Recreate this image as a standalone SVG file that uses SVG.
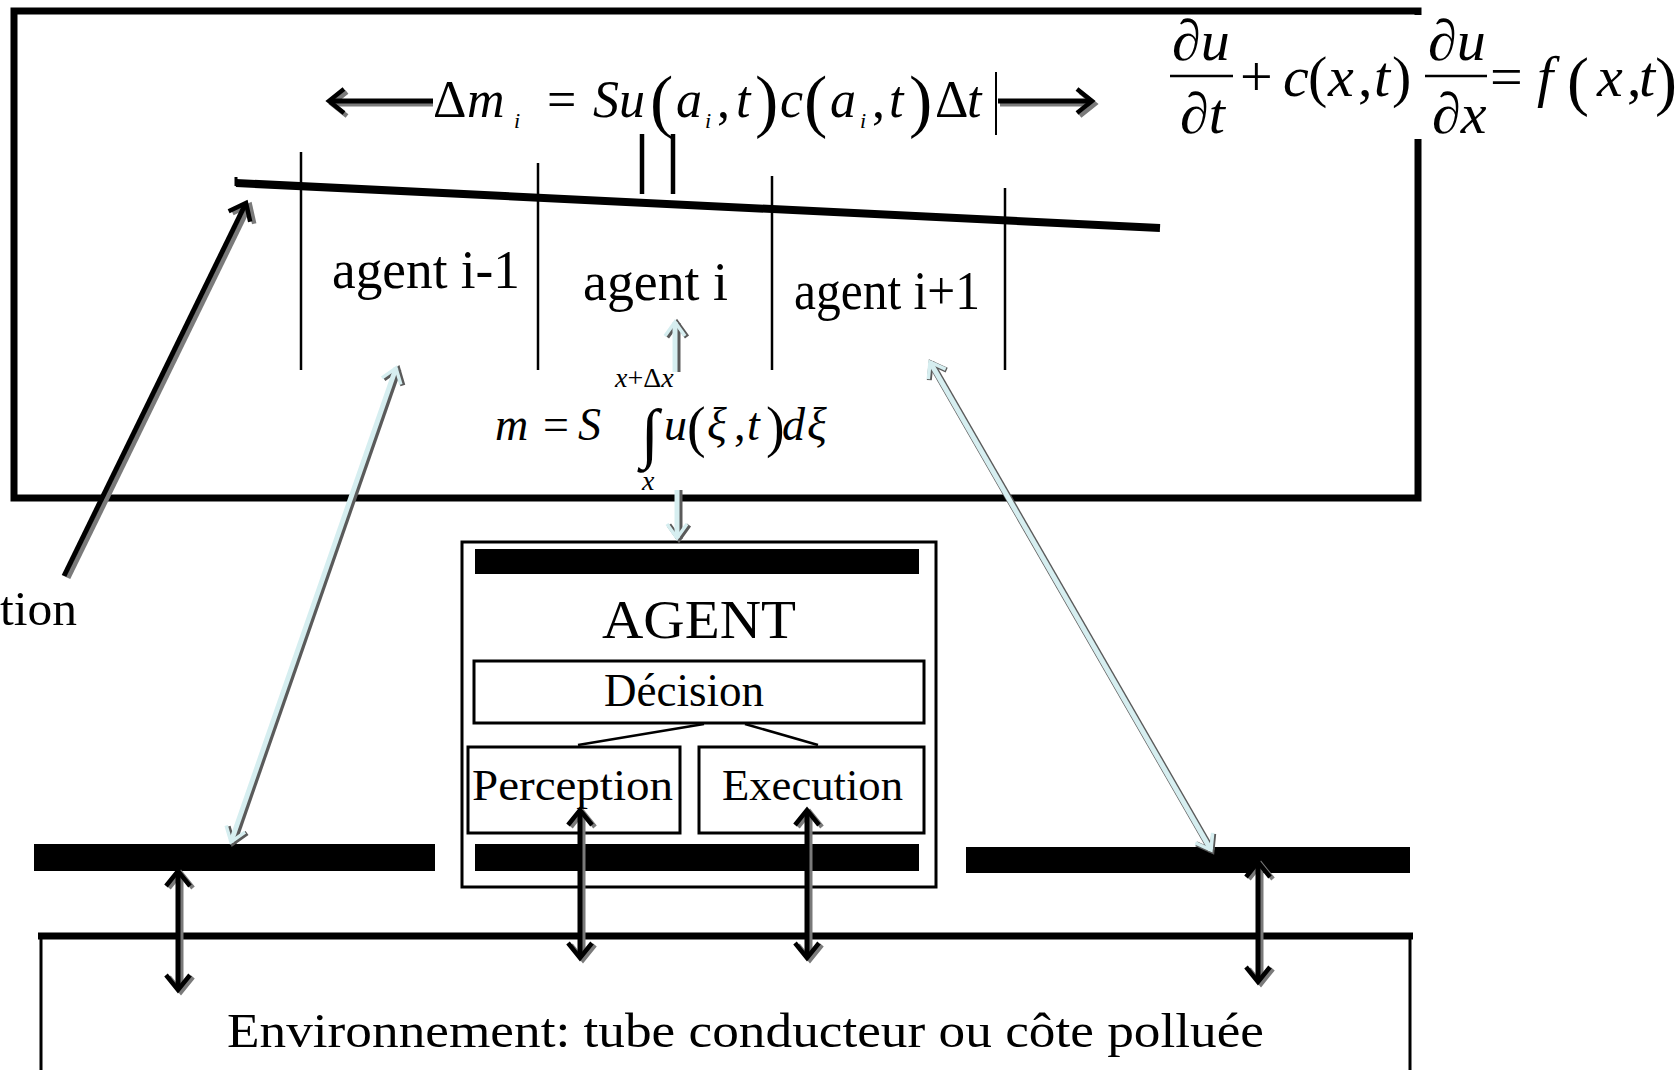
<svg xmlns="http://www.w3.org/2000/svg" width="1677" height="1070" viewBox="0 0 1677 1070">
<style>
.t{font-family:"Liberation Serif","Times New Roman",serif;fill:#000}
.i{font-style:italic}
.box{fill:none;stroke:#000;stroke-width:3}
.bar{fill:#000}
.div{stroke:#000;stroke-width:2.5}
.blk{stroke:#000;stroke-width:5;fill:none}
.shd{stroke:#7a7a7a;stroke-width:5;fill:none}
.cy{stroke:#d6eef0;stroke-width:5;fill:none}
.cysh{stroke:#5a5a5a;stroke-width:7;fill:none}
</style>
<defs>
<marker id="mk" viewBox="-16 -13 19 26" refX="0" refY="0" markerWidth="19" markerHeight="26" markerUnits="userSpaceOnUse" orient="auto-start-reverse" overflow="visible"><path d="M-15,-12 L0,0 L-15,12" fill="none" stroke="#000" stroke-width="4.5"/></marker>
<marker id="mg" viewBox="-16 -13 19 26" refX="0" refY="0" markerWidth="19" markerHeight="26" markerUnits="userSpaceOnUse" orient="auto-start-reverse" overflow="visible"><path d="M-15,-12 L0,0 L-15,12" fill="none" stroke="#7a7a7a" stroke-width="4.5"/></marker>
<marker id="mc" viewBox="-16 -13 19 26" refX="0" refY="0" markerWidth="19" markerHeight="26" markerUnits="userSpaceOnUse" orient="auto-start-reverse" overflow="visible"><path d="M-14,-10 L0,0 L-14,10" fill="none" stroke="#d6eef0" stroke-width="3.5"/></marker>
<marker id="mcs" viewBox="-16 -13 19 26" refX="0" refY="0" markerWidth="19" markerHeight="26" markerUnits="userSpaceOnUse" orient="auto-start-reverse" overflow="visible"><path d="M-14,-10 L0,0 L-14,10" fill="none" stroke="#5a5a5a" stroke-width="5"/></marker>
</defs>
<rect width="1677" height="1070" fill="#fff"/>

<g id="top-panel">
<rect x="14" y="11" width="1404" height="487" fill="none" stroke="#000" stroke-width="7"/>
</g>

<g id="pde-equation">
<rect x="1163" y="15" width="514" height="124" fill="#fff"/>
<g class="t" font-size="58">
<text class="i" x="1172" y="60">∂u</text>
<text class="i" x="1180" y="133">∂t</text>
<text x="1240" y="96">+</text>
<text x="1283" y="96"><tspan class="i">c</tspan><tspan x="1308">(</tspan><tspan class="i" x="1328">x</tspan><tspan x="1358">,</tspan><tspan class="i" x="1374">t</tspan><tspan x="1392">)</tspan></text>
<text class="i" x="1428" y="60">∂u</text>
<text class="i" x="1432" y="133">∂x</text>
<text x="1490" y="96">=</text>
<text class="i" x="1537" y="96">f</text>
<text x="1567" y="103" font-size="66">(</text>
<text class="i" x="1597" y="96">x</text>
<text x="1627" y="96">,</text>
<text class="i" x="1639" y="96">t</text>
<text x="1655" y="103" font-size="66">)</text>
</g>
<line x1="1170" y1="76" x2="1233" y2="76" stroke="#000" stroke-width="2.5"/>
<line x1="1425" y1="76" x2="1487" y2="76" stroke="#000" stroke-width="2.5"/>
</g>

<g id="delta-equation" class="t" font-size="52">
<text x="433" y="117">Δ</text>
<text class="i" x="467" y="117">m</text>
<text class="i" x="514" y="128" font-size="22">i</text>
<text x="547" y="117">=</text>
<text class="i" x="593" y="117">Su</text>
<text x="650" y="124" font-size="70">(</text>
<text class="i" x="676" y="117">a</text>
<text class="i" x="705" y="128" font-size="22">i</text>
<text x="717" y="117">,</text>
<text class="i" x="736" y="117">t</text>
<text x="755" y="124" font-size="70">)</text>
<text class="i" x="780" y="117">c</text>
<text x="804" y="124" font-size="70">(</text>
<text class="i" x="830" y="117">a</text>
<text class="i" x="860" y="128" font-size="22">i</text>
<text x="872" y="117">,</text>
<text class="i" x="889" y="117">t</text>
<text x="909" y="124" font-size="70">)</text>
<text x="935" y="117">Δ</text>
<text class="i" x="967" y="117">t</text>
<line x1="996" y1="72" x2="996" y2="135" stroke="#000" stroke-width="2"/>
</g>

<g id="equal-marks">
<line x1="642" y1="134" x2="642" y2="194" stroke="#000" stroke-width="4.5"/>
<line x1="673" y1="134" x2="673" y2="194" stroke="#000" stroke-width="4.5"/>
</g>

<g id="tube">
<line x1="236" y1="183" x2="1160" y2="228" stroke="#000" stroke-width="8"/>
<line x1="236" y1="177" x2="236" y2="186" stroke="#000" stroke-width="3"/>
<line x1="301" y1="152" x2="301" y2="370" class="div"/>
<line x1="538" y1="163" x2="538" y2="370" class="div"/>
<line x1="772" y1="176" x2="772" y2="370" class="div"/>
<line x1="1005" y1="188" x2="1005" y2="370" class="div"/>
</g>

<g id="agent-im1"><text class="t" x="332" y="288" font-size="54" textLength="188" lengthAdjust="spacingAndGlyphs">agent i-1</text></g>
<g id="agent-i"><text class="t" x="583" y="300" font-size="54" textLength="145" lengthAdjust="spacingAndGlyphs">agent i</text></g>
<g id="agent-ip1"><text class="t" x="794" y="309" font-size="54" textLength="186" lengthAdjust="spacingAndGlyphs">agent i+1</text></g>

<g id="mass-formula" class="t" font-size="46">
<text class="i" x="495" y="440">m</text>
<text x="543" y="440">=</text>
<text class="i" x="578" y="440">S</text>
<text x="641" y="455" font-size="66">∫</text>
<text x="615" y="387" font-size="28"><tspan class="i">x</tspan>+Δ<tspan class="i">x</tspan></text>
<text class="i" x="642" y="490" font-size="28">x</text>
<text class="i" x="664" y="440">u</text>
<text x="687" y="446" font-size="56">(</text>
<text class="i" x="707" y="440">ξ</text>
<text x="734" y="440">,</text>
<text class="i" x="747" y="440">t</text>
<text x="766" y="446" font-size="56">)</text>
<text class="i" x="782" y="440">d</text>
<text class="i" x="807" y="440">ξ</text>
</g>

<g id="agent-box">
<rect x="462" y="542" width="474" height="345" class="box"/>
<rect x="475" y="549" width="444" height="25" class="bar"/>
<text class="t" x="602" y="638" font-size="54" textLength="194" lengthAdjust="spacingAndGlyphs">AGENT</text>
</g>
<g id="decision">
<rect x="474" y="661" width="450" height="62" class="box"/>
<text class="t" x="604" y="706" font-size="46" textLength="160" lengthAdjust="spacingAndGlyphs">Décision</text>
</g>
<g id="perception">
<rect x="468" y="747" width="212" height="86" class="box"/>
<text class="t" x="472" y="800" font-size="44" textLength="201" lengthAdjust="spacingAndGlyphs">Perception</text>
</g>
<g id="execution">
<rect x="699" y="747" width="225" height="86" class="box"/>
<text class="t" x="722" y="800" font-size="44" textLength="181" lengthAdjust="spacingAndGlyphs">Execution</text>
</g>
<g id="agent-bottom-bar"><rect x="475" y="844" width="444" height="27" class="bar"/></g>

<g id="left-bar"><rect x="34" y="844" width="401" height="27" class="bar"/></g>
<g id="right-bar"><rect x="966" y="847" width="444" height="26" class="bar"/></g>

<g id="environment">
<rect x="41" y="936" width="1369" height="150" fill="none" stroke="#000" stroke-width="3"/>
<line x1="38" y1="936" x2="1413" y2="936" stroke="#000" stroke-width="7"/>
<text class="t" x="227" y="1047" font-size="48" textLength="1037" lengthAdjust="spacingAndGlyphs">Environnement: tube conducteur ou côte polluée</text>
</g>

<g id="tion-label"><text class="t" x="0" y="625" font-size="48" textLength="77" lengthAdjust="spacingAndGlyphs">tion</text></g>

<g id="connectors">
<line x1="704" y1="724" x2="578" y2="745" stroke="#000" stroke-width="2.5"/>
<line x1="745" y1="724" x2="818" y2="745" stroke="#000" stroke-width="2.5"/>

<line x1="68" y1="578" x2="250" y2="205" class="shd" marker-end="url(#mg)"/>
<line x1="64" y1="576" x2="246" y2="203" class="blk" marker-end="url(#mk)"/>

<line x1="433" y1="104" x2="332" y2="104" class="shd" marker-end="url(#mg)"/>
<line x1="433" y1="101" x2="329" y2="101" class="blk" marker-end="url(#mk)"/>
<line x1="1000" y1="104" x2="1095" y2="104" class="shd" marker-end="url(#mg)"/>
<line x1="998" y1="101" x2="1092" y2="101" class="blk" marker-end="url(#mk)"/>

<line x1="398" y1="369" x2="233" y2="843" class="cysh" marker-start="url(#mcs)" marker-end="url(#mcs)"/>
<line x1="396" y1="368" x2="231" y2="842" class="cy" marker-start="url(#mc)" marker-end="url(#mc)"/>
<line x1="931" y1="363" x2="1212" y2="851" class="cysh" stroke-width="5" marker-start="url(#mcs)" marker-end="url(#mcs)"/>
<line x1="930" y1="362" x2="1211" y2="850" class="cy" stroke-width="3.5" marker-start="url(#mc)" marker-end="url(#mc)"/>

<line x1="677" y1="372" x2="677" y2="323" class="cysh" marker-end="url(#mcs)"/>
<line x1="675" y1="372" x2="675" y2="322" class="cy" marker-end="url(#mc)"/>
<line x1="679" y1="490" x2="679" y2="539" class="cysh" marker-end="url(#mcs)"/>
<line x1="677" y1="490" x2="677" y2="538" class="cy" marker-end="url(#mc)"/>

<line x1="181" y1="873" x2="181" y2="992" class="shd" marker-start="url(#mg)" marker-end="url(#mg)"/>
<line x1="178" y1="871" x2="178" y2="990" class="blk" marker-start="url(#mk)" marker-end="url(#mk)"/>
<line x1="583" y1="812" x2="583" y2="960" class="shd" marker-start="url(#mg)" marker-end="url(#mg)"/>
<line x1="580" y1="810" x2="580" y2="958" class="blk" marker-start="url(#mk)" marker-end="url(#mk)"/>
<line x1="810" y1="812" x2="810" y2="960" class="shd" marker-start="url(#mg)" marker-end="url(#mg)"/>
<line x1="807" y1="810" x2="807" y2="958" class="blk" marker-start="url(#mk)" marker-end="url(#mk)"/>
<line x1="1261" y1="864" x2="1261" y2="984" class="shd" marker-start="url(#mg)" marker-end="url(#mg)"/>
<line x1="1258" y1="862" x2="1258" y2="982" class="blk" marker-start="url(#mk)" marker-end="url(#mk)"/>
</g>
</svg>
